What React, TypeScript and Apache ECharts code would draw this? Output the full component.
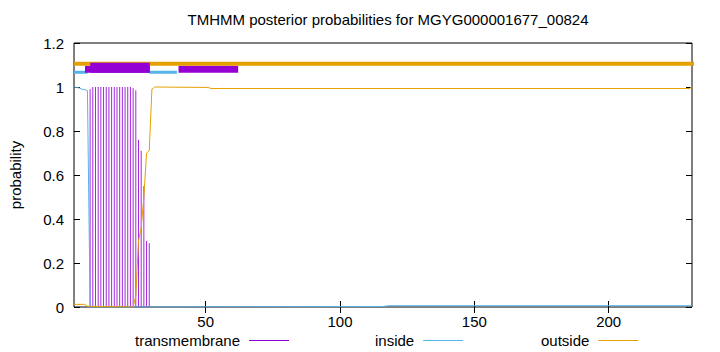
import React, { useEffect, useRef } from "react";
import * as echarts from "echarts";

const chartTitle = "TMHMM posterior probabilities for MGYG000001677_00824";
const yAxisName = "probability";
const seqStart = 1;
const seqEnd = 231;
const xTickValues = [50, 100, 150, 200];
const yMin = 0;
const yMax = 1.2;
const yInterval = 0.2;

// transmembrane posterior (impulses) [position, probability]
const tmImpulses: [number, number][] = [
  [7, 0.99], [8, 1.0], [9, 1.0], [10, 1.0], [11, 1.0], [12, 1.0], [13, 1.0],
  [14, 1.0], [15, 1.0], [16, 1.0], [17, 1.0], [18, 1.0], [19, 1.0], [20, 1.0],
  [21, 1.0], [22, 1.0], [23, 0.995], [24, 0.985], [25, 0.76], [26, 0.71],
  [27, 0.55], [28, 0.3], [29, 0.29],
];

// inside posterior [position, probability]
const insideCurve: [number, number][] = [
  [1, 1.0], [2, 0.998], [3, 0.995], [4, 0.99], [5, 0.988], [6, 0.983],
  [7, 0.0], [116, 0.002], [118, 0.006], [231, 0.006],
];

// outside posterior [position, probability]
const outsideCurve: [number, number][] = [
  [1, 0.012], [5, 0.012], [6, 0.003], [23, 0.0], [24, 0.05], [25, 0.3],
  [26, 0.36], [27, 0.5], [28, 0.7], [29, 0.71], [30, 0.99], [31, 1.0],
  [51, 0.998], [52, 0.993], [230, 0.993], [231, 1.0],
];

// top track: predicted topology
const outsideTrack: [number, number][] = [[1, 1.106], [265, 1.106]];
const insideTrack: (number | string)[][] = [
  [1, 1.067], [6.05, 1.067], [18, "-"], [29, 1.067], [39.3, 1.067],
];
// boxes: [x0, x1, y0, y1]
const tmBoxesLow: number[][] = [
  [5.1, 29.2, 1.0645, 1.0968],
  [39.9, 62.1, 1.0645, 1.0968],
];
const tmBoxesHigh: number[][] = [[7.05, 29.2, 1.0645, 1.1105]];

const FONT = "'Liberation Sans', Arial, Helvetica, sans-serif";
const C_TM = "#9400d3";
const C_IN = "#56b4e9";
const C_OUT = "#e69f00";

const rectRender = (params: any, api: any) => {
  const p0 = api.coord([api.value(0), api.value(3)]);
  const p1 = api.coord([api.value(1), api.value(2)]);
  return {
    type: "rect",
    shape: { x: p0[0], y: p0[1], width: p1[0] - p0[0], height: p1[1] - p0[1] },
    style: { fill: C_TM },
  };
};

const impulseRender = (params: any, api: any) => {
  const x = api.value(0);
  const v = api.value(1);
  const p0 = api.coord([x, 0]);
  const p1 = api.coord([x, v]);
  return {
    type: "line",
    shape: { x1: p0[0], y1: p0[1], x2: p1[0], y2: p1[1] },
    style: { stroke: C_TM, lineWidth: 1, opacity: 0.85 },
  };
};

const legendBase = (name: string, left: number) => ({
  data: [{ name, icon: "rect" }],
  left,
  top: 333,
  align: "right",
  itemWidth: 40,
  itemHeight: 1,
  selectedMode: false,
  padding: 0,
  textStyle: { fontSize: 15, color: "#000", fontFamily: FONT, padding: [0, 4, 0, 0] },
});

export default function App() {
  const ref = useRef<HTMLDivElement>(null);
  useEffect(() => {
    if (!ref.current) return;
    const chart = echarts.init(ref.current, undefined, { renderer: "svg" });
    const tick = { inside: true, length: 6, lineStyle: { color: "#000", width: 1 } };
    chart.setOption({
      animation: false,
      backgroundColor: "#fff",
      title: {
        text: chartTitle,
        left: 383,
        top: 7,
        textAlign: "center",
        textStyle: { fontSize: 15, fontWeight: "normal", color: "#000", fontFamily: FONT },
      },
      legend: [
        legendBase("transmembrane", 135),
        legendBase("inside", 375),
        legendBase("outside", 541),
      ],
      grid: {
        left: 73, right: 28, top: 43, bottom: 45,
        show: true, borderColor: "#000", borderWidth: 1, backgroundColor: "transparent",
      },
      xAxis: [
        {
          type: "value", min: seqStart, max: seqEnd, position: "bottom",
          axisLine: { show: false }, splitLine: { show: false },
          axisTick: { ...tick, customValues: xTickValues },
          axisLabel: { customValues: xTickValues, margin: 7, fontSize: 15, color: "#000", fontFamily: FONT },
        },
        {
          type: "value", min: seqStart, max: seqEnd, position: "top",
          axisLine: { show: false }, splitLine: { show: false },
          axisTick: { ...tick, customValues: xTickValues },
          axisLabel: { show: false },
        },
      ],
      yAxis: [
        {
          type: "value", min: yMin, max: yMax, interval: yInterval, position: "left",
          axisLine: { show: false }, splitLine: { show: false },
          axisTick: tick,
          axisLabel: {
            margin: 10, fontSize: 15, color: "#000", fontFamily: FONT,
            formatter: (v: number) => String(+v.toFixed(1)),
          },
          name: yAxisName, nameLocation: "middle", nameGap: 51,
          nameTextStyle: { fontSize: 15, color: "#000", fontFamily: FONT },
        },
        {
          type: "value", min: yMin, max: yMax, interval: yInterval, position: "right",
          axisLine: { show: false }, splitLine: { show: false },
          axisTick: tick, axisLabel: { show: false },
        },
      ],
      series: [
        {
          name: "transmembrane", type: "custom", z: 2,
          itemStyle: { color: C_TM },
          renderItem: impulseRender, data: tmImpulses,
        },
        {
          name: "inside", type: "line", z: 3, showSymbol: false,
          color: C_IN, itemStyle: { color: C_IN },
          lineStyle: { color: C_IN, width: 1 }, data: insideCurve,
        },
        {
          name: "outside", type: "line", z: 4, showSymbol: false,
          color: C_OUT, itemStyle: { color: C_OUT },
          lineStyle: { color: C_OUT, width: 1 }, data: outsideCurve,
        },
        {
          name: "insideTrack", type: "line", z: 5, showSymbol: false,
          lineStyle: { color: C_IN, width: 3 }, data: insideTrack, clip: false,
        },
        {
          name: "tmTrackLow", type: "custom", z: 6,
          encode: { x: [0, 1], y: [2, 3] },
          renderItem: rectRender, data: tmBoxesLow,
        },
        {
          name: "outsideTrack", type: "line", z: 7, showSymbol: false,
          lineStyle: { color: C_OUT, width: 4 }, data: outsideTrack, clip: false,
        },
        {
          name: "tmTrackHigh", type: "custom", z: 8,
          encode: { x: [0, 1], y: [2, 3] },
          renderItem: rectRender, data: tmBoxesHigh,
        },
      ],
    });
    return () => chart.dispose();
  }, []);
  return (
    <div
      ref={ref}
      style={{ position: "absolute", left: 0, top: 0, width: 720, height: 352 }}
    />
  );
}
